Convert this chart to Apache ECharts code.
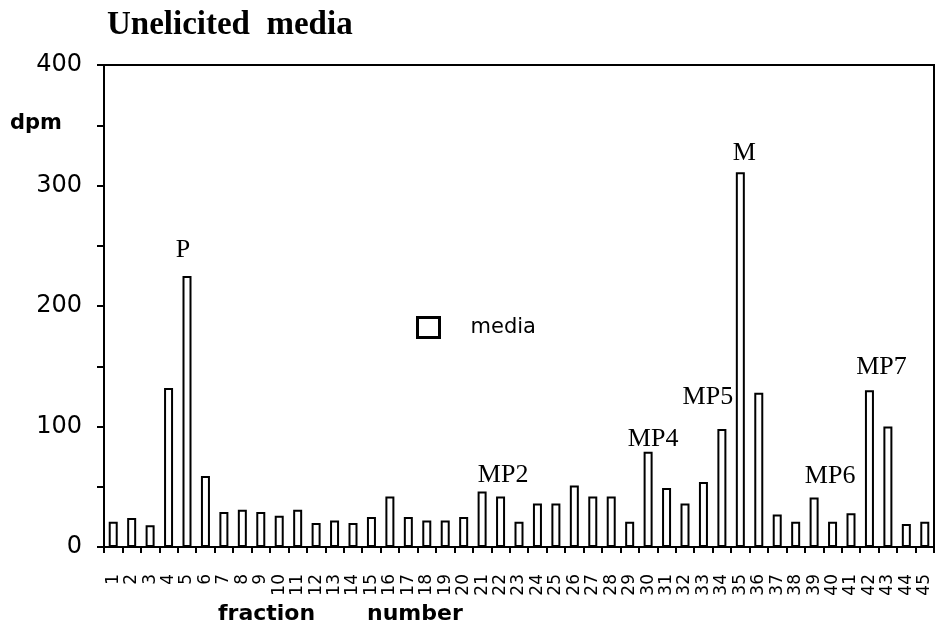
<!DOCTYPE html>
<html>
<head>
<meta charset="utf-8">
<script src="https://cdn.jsdelivr.net/npm/echarts@6/dist/echarts.min.js"></script>
<style>
html,body{margin:0;padding:0;background:#fff;}
#chart{width:938px;height:629px;}
</style>
</head>
<body>
<div id="chart"></div>
<script>
// ---- data ----
const categories = ['1','2','3','4','5','6','7','8','9','10','11','12','13','14','15','16','17','18','19','20','21','22','23','24','25','26','27','28','29','30','31','32','33','34','35','36','37','38','39','40','41','42','43','44','45'];
const mediaValues = [21, 24, 18, 132, 225, 59, 29, 31, 29, 26, 31, 20, 22, 20, 25, 42, 25, 22, 22, 25, 46, 42, 21, 36, 36, 51, 42, 42, 21, 79, 49, 36, 54, 98, 311, 128, 27, 21, 41, 21, 28, 130, 100, 19, 21];
const peakFractions = [5, 21, 30, 34, 35, 39, 42];
const peakLabels = ['P', 'MP2', 'MP4', 'MP5', 'M', 'MP6', 'MP7'];
const yTickLabels = [0, 100, 200, 300, 400];
const seriesName = 'media';

// ---- label placement (style) ----
const peakOffsets = {
  'P': [-4, -13], 'MP2': [21, -3], 'MP4': [5, 0], 'MP5': [-14, -19],
  'M': [4, -6], 'MP6': [16, -8], 'MP7': [12, -10]
};

const seriesData = mediaValues.map((v, i) => {
  const k = peakFractions.indexOf(i + 1);
  if (k < 0) return v;
  const txt = peakLabels[k];
  return {
    value: v,
    label: {
      show: true, position: 'top', distance: 0,
      formatter: txt, offset: peakOffsets[txt],
      fontFamily: 'Liberation Serif', fontSize: 26, color: '#000'
    }
  };
});

const chart = echarts.init(document.getElementById('chart'));
chart.setOption({
  animation: false,
  backgroundColor: '#fff',
  grid: { left: 104, right: 4, top: 65, bottom: 82, show: true, borderColor: '#000', borderWidth: 2, backgroundColor: 'transparent' },
  legend: {
    data: [seriesName], left: 416, top: 316, padding: 0, icon: 'rect', itemWidth: 22, itemHeight: 20,
    itemStyle: { color: '#fff', borderColor: '#000', borderWidth: 3 },
    textStyle: { fontFamily: 'DejaVu Sans', fontSize: 21, color: '#000', padding: [0, 0, 0, 26] }
  },
  xAxis: {
    type: 'category', data: categories, boundaryGap: true,
    axisLine: { lineStyle: { color: '#000', width: 2 } },
    axisTick: { show: true, interval: 0, length: 6, lineStyle: { color: '#000', width: 2 } },
    axisLabel: { interval: 0, rotate: 90, margin: 27, fontFamily: 'DejaVu Sans', fontSize: 17, color: '#000' }
  },
  yAxis: {
    type: 'value', min: 0, max: 400, interval: 50,
    splitLine: { show: false },
    axisLine: { show: true, lineStyle: { color: '#000', width: 2 } },
    axisTick: { show: true, length: 7, lineStyle: { color: '#000', width: 2 } },
    axisLabel: {
      margin: 22, fontFamily: 'DejaVu Sans', fontSize: 24, color: '#000',
      formatter: v => (yTickLabels.indexOf(v) >= 0 ? String(v) : '')
    }
  },
  graphic: [
    { type: 'text', left: 107, top: 9, style: { text: 'Unelicited  media', font: 'bold 33px "Liberation Serif"', fill: '#000' } },
    { type: 'text', left: 10, top: 113, style: { text: 'dpm', font: 'bold 21px "DejaVu Sans"', fill: '#000' } },
    { type: 'text', left: 218, top: 603, style: { text: 'fraction', font: 'bold 22px "DejaVu Sans"', fill: '#000' } },
    { type: 'text', left: 367, top: 603, style: { text: 'number', font: 'bold 22px "DejaVu Sans"', fill: '#000' } }
  ],
  series: [{
    name: seriesName, type: 'bar', data: seriesData, barWidth: 9,
    itemStyle: { color: '#fff', borderColor: '#000', borderWidth: 2 }
  }]
});
</script>
</body>
</html>
